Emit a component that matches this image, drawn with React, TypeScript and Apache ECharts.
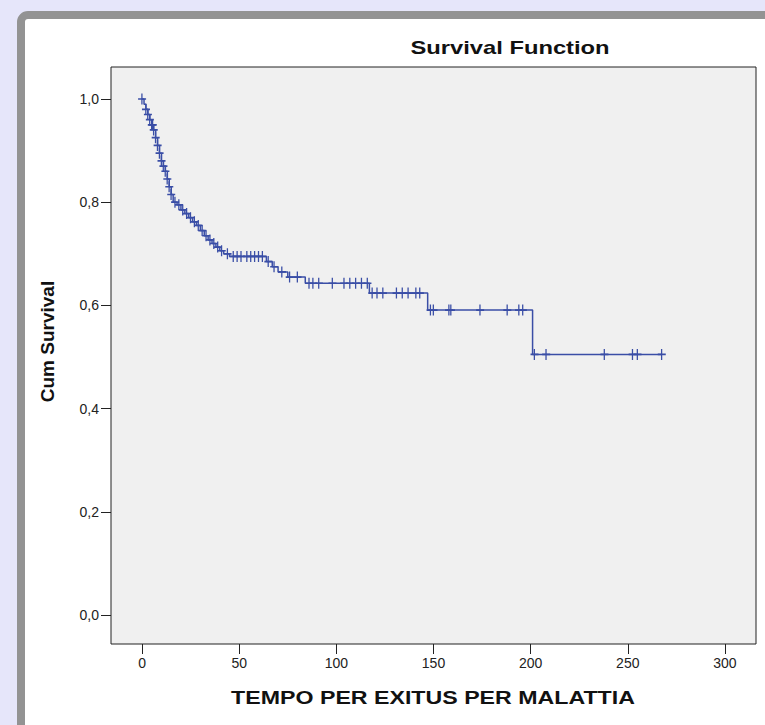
import React, { useEffect, useRef } from "react";
import * as echarts from "echarts";

// Kaplan-Meier step curve: time at which survival drops, and survival after the drop
const stepTimes = [0, 1, 2, 3, 4, 5, 6, 7, 8, 9, 10, 11, 12, 13, 14, 15, 16, 18, 20, 22, 24, 26, 28, 30, 32, 34, 36, 38, 40, 42, 45, 64, 67, 70, 75, 84, 117, 147, 201, 267.5];
const stepSurv = [1.0, 0.99, 0.98, 0.97, 0.96, 0.95, 0.94, 0.925, 0.91, 0.895, 0.88, 0.87, 0.86, 0.845, 0.83, 0.815, 0.8, 0.795, 0.785, 0.778, 0.77, 0.762, 0.755, 0.745, 0.735, 0.727, 0.72, 0.713, 0.706, 0.7, 0.695, 0.685, 0.675, 0.665, 0.655, 0.643, 0.624, 0.591, 0.505, 0.505];

// censored observations (times)
const censorTimes = [0, 2, 3, 4, 5, 5.5, 6, 7, 8, 9, 10, 11, 12, 13, 14, 15, 17, 19, 21, 23, 25, 27, 29, 31, 33, 35, 37, 39, 41, 44, 47, 49, 51, 54, 56, 58, 60, 62, 65, 68, 72, 76, 80, 86, 88, 91, 98, 104, 107, 110, 113, 116, 118.5, 121, 124, 131, 134, 137, 141, 143, 148.5, 150, 158, 159, 174, 188, 194, 196, 202, 208, 238, 252.5, 255, 267.5];

const xTicks = [0, 50, 100, 150, 200, 250, 300];
const yTicks = [0, 0.2, 0.4, 0.6, 0.8, 1.0];

const survAt = (t: number) => {
  let s = stepSurv[0];
  for (let i = 0; i < stepTimes.length; i++) {
    if (stepTimes[i] <= t) s = stepSurv[i];
  }
  return s;
};

const FONT = "'Liberation Sans', Arial, sans-serif";
const BLUE = "#3a4ea6";

export default function App() {
  const ref = useRef<HTMLDivElement>(null);
  useEffect(() => {
    document.body.style.margin = "0";
    const chart = echarts.init(ref.current!, null, { renderer: "svg" });
    chart.setOption({
      animation: false,
      backgroundColor: "#e6e6fa",
      graphic: [
        {
          type: "rect",
          z: -10,
          shape: { x: 21, y: 15, width: 820, height: 820, r: 7 },
          style: { fill: "#ffffff", stroke: "#939393", lineWidth: 8 },
        },
        {
          type: "text",
          x: 510,
          y: 48,
          scaleX: 1.25,
          style: {
            text: "Survival Function",
            font: `bold 19px ${FONT}`,
            fill: "#111",
            textAlign: "center",
            textVerticalAlign: "middle",
          },
        },
        {
          type: "text",
          x: 433,
          y: 697,
          scaleX: 1.22,
          style: {
            text: "TEMPO PER EXITUS PER MALATTIA",
            font: `bold 19px ${FONT}`,
            fill: "#111",
            textAlign: "center",
            textVerticalAlign: "middle",
          },
        },
      ],
      grid: {
        left: 111,
        top: 67,
        right: 9,
        bottom: 81,
        show: true,
        backgroundColor: "#f0f0f0",
        borderColor: "#222",
        borderWidth: 1,
      },
      xAxis: {
        type: "value",
        min: -16,
        max: 316,
        splitLine: { show: false },
        axisLine: { show: false, onZero: false },
        axisTick: { show: true, length: 10, lineStyle: { color: "#222" }, customValues: xTicks },
        axisLabel: {
          customValues: xTicks,
          margin: 12,
          color: "#222",
          fontSize: 14,
          fontFamily: FONT,
        },
      },
      yAxis: {
        type: "value",
        min: -0.056,
        max: 1.062,
        splitLine: { show: false },
        axisLine: { show: false, onZero: false },
        axisTick: { show: true, length: 10, lineStyle: { color: "#222" }, customValues: yTicks },
        axisLabel: {
          customValues: yTicks,
          margin: 12,
          color: "#222",
          fontSize: 14,
          fontFamily: FONT,
          formatter: (v: number) => v.toFixed(1).replace(".", ","),
        },
        name: "Cum Survival",
        nameLocation: "middle",
        nameGap: 54,
        nameTextStyle: {
          fontWeight: "bold",
          fontSize: 19,
          fontFamily: FONT,
          color: "#111",
          padding: [0, 0, 0, 28],
        },
      },
      series: [
        {
          type: "line",
          step: "end",
          showSymbol: false,
          data: stepTimes.map((t, i) => [t, stepSurv[i]]),
          lineStyle: { color: BLUE, width: 1.5 },
        },
        {
          type: "scatter",
          symbol: "path://M4 0h1.6v4.4h4.4v1.6h-4.4v4.4h-1.6v-4.4h-4v-1.6h4z",
          symbolSize: [8, 11],
          data: censorTimes.map((t) => [t, survAt(t)]),
          itemStyle: { color: BLUE, opacity: 1 },
        },
      ],
    });
    return () => chart.dispose();
  }, []);
  return <div ref={ref} style={{ width: 765, height: 725 }} />;
}
